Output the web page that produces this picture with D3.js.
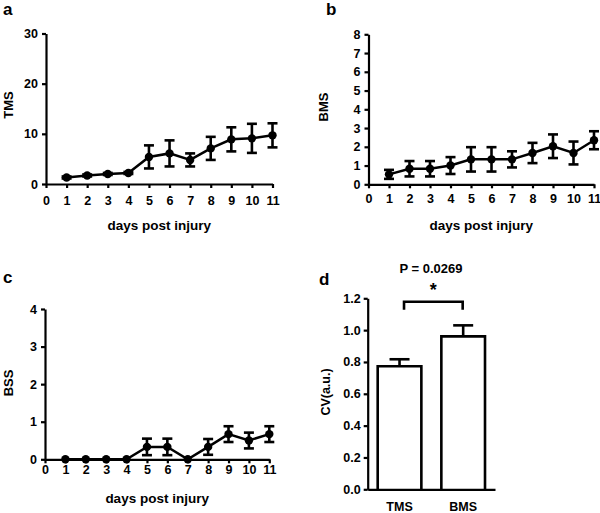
<!DOCTYPE html>
<html>
<head>
<meta charset="utf-8">
<script src="https://cdn.jsdelivr.net/npm/d3@7"></script>
<style>
  body { margin: 0; background: #fff; }
  svg { display: block; }
  text { font-family: "Liberation Sans", Arial, sans-serif; font-weight: bold; fill: #000; }
</style>
</head>
<body>
<svg id="chart" width="600" height="513"></svg>
<script>
// ---- data ----
const days = [1, 2, 3, 4, 5, 6, 7, 8, 9, 10, 11];
const xTicks = [0, 1, 2, 3, 4, 5, 6, 7, 8, 9, 10, 11];

const tmsMean = [1.3, 1.7, 2.0, 2.2, 5.4, 6.1, 4.8, 7.1, 8.9, 9.1, 9.7];
const tmsErr  = [0.2, 0.2, 0.2, 0.2, 2.3, 2.6, 1.3, 2.3, 2.4, 2.9, 2.4];
const tmsTicks = [0, 10, 20, 30];

const bmsMean = [0.53, 0.83, 0.83, 1.0, 1.33, 1.33, 1.33, 1.67, 2.03, 1.67, 2.35];
const bmsErr  = [0.24, 0.41, 0.41, 0.45, 0.65, 0.65, 0.43, 0.54, 0.63, 0.61, 0.48];
const bmsTicks = [0, 1, 2, 3, 4, 5, 6, 7, 8];

const bssMean = [0, 0, 0, 0, 0.33, 0.33, 0, 0.33, 0.67, 0.5, 0.67];
const bssErr  = [0, 0, 0, 0, 0.22, 0.22, 0, 0.21, 0.21, 0.21, 0.21];
const bssTicks = [0, 1, 2, 3, 4];

const cvGroups = ["TMS", "BMS"];
const cvMean = [0.773, 0.961];
const cvErr  = [0.044, 0.069];
const cvTicks = [0, 0.2, 0.4, 0.6, 0.8, 1.0, 1.2];
const pLabel = "P = 0.0269";
const sigMark = "*";

const xLabel = "days post injury";

// ---- drawing ----
const svg = d3.select("#chart");

function styleAxis(g) {
  g.selectAll("path.domain").attr("stroke", "#000").attr("stroke-width", 2.2);
  g.selectAll(".tick line").attr("stroke", "#000").attr("stroke-width", 2.2);
  g.selectAll(".tick text")
    .attr("fill", "#000")
    .style("font-family", '"Liberation Sans", Arial, sans-serif')
    .style("font-weight", "bold")
    .style("font-size", "12.5px");
}

function linePanel(o) {
  const x = d3.scaleLinear().domain([0, 11]).range([o.x0, o.x1]);
  const y = d3.scaleLinear().domain([0, o.ymax]).range([o.y0, o.y1]);
  const g = svg.append("g");

  const gx = g.append("g").attr("transform", `translate(0,${o.y0})`)
    .call(d3.axisBottom(x).tickValues(xTicks).tickFormat(d3.format("d"))
      .tickSize(4).tickSizeOuter(0).tickPadding(o.xpad));
  styleAxis(gx);
  const gy = g.append("g").attr("transform", `translate(${o.x0},0)`)
    .call(d3.axisLeft(y).tickValues(o.ticks).tickFormat(d3.format("d"))
      .tickSize(4).tickSizeOuter(0).tickPadding(4));
  styleAxis(gy);

  // line
  g.append("path")
    .datum(days.map((d, i) => [d, o.mean[i]]))
    .attr("fill", "none").attr("stroke", "#000").attr("stroke-width", 2.5)
    .attr("d", d3.line().x(d => x(d[0])).y(d => y(d[1])));

  // error bars
  const eb = g.append("g").attr("stroke", "#000").attr("stroke-width", 2.6);
  days.forEach((d, i) => {
    const e = o.err[i];
    if (e <= 0) return;
    const cx = x(d), top = y(o.mean[i] + e), bot = y(o.mean[i] - e);
    eb.append("line").attr("x1", cx).attr("x2", cx).attr("y1", top).attr("y2", bot);
    eb.append("line").attr("x1", cx - 5).attr("x2", cx + 5).attr("y1", top).attr("y2", top);
    eb.append("line").attr("x1", cx - 5).attr("x2", cx + 5).attr("y1", bot).attr("y2", bot);
  });

  // points
  g.append("g").selectAll("circle").data(days).join("circle")
    .attr("cx", d => x(d)).attr("cy", (d, i) => y(o.mean[i])).attr("r", 4.2)
    .attr("fill", "#000");

  // labels
  g.append("text").attr("x", (o.x0 + o.x1) / 2).attr("y", o.xlabY)
    .attr("text-anchor", "middle").style("font-size", "13.5px").text(xLabel);
  g.append("text").attr("transform", `translate(${o.ylabX},${o.ylabY}) rotate(-90)`)
    .attr("text-anchor", "middle").style("font-size", "13px").text(o.ylabel);
  g.append("text").attr("x", o.letX).attr("y", o.letY)
    .style("font-size", "17px").text(o.letter);
}

linePanel({ x0: 46, x1: 272.5, y0: 184, y1: 33.5, ymax: 30, ticks: tmsTicks,
  mean: tmsMean, err: tmsErr, xpad: 8, xlabY: 230, ylabel: "TMS", ylabX: 13, ylabY: 105,
  letter: "a", letX: 3, letY: 15 });

linePanel({ x0: 368.5, x1: 594, y0: 184.3, y1: 34.3, ymax: 8, ticks: bmsTicks,
  mean: bmsMean, err: bmsErr, xpad: 6, xlabY: 230, ylabel: "BMS", ylabX: 328, ylabY: 107,
  letter: "b", letX: 326, letY: 15 });

linePanel({ x0: 45, x1: 269.3, y0: 459.3, y1: 309, ymax: 4, ticks: bssTicks,
  mean: bssMean, err: bssErr, xpad: 2, xlabY: 503, ylabel: "BSS", ylabX: 13, ylabY: 383,
  letter: "c", letX: 3, letY: 283 });

// ---- panel d ----
(function () {
  const x0 = 367.7, x1 = 495, y0 = 489.3, y1 = 298.3;
  const x = d3.scaleBand().domain(cvGroups).range([x0, x1]).paddingInner(0.314).paddingOuter(0.157);
  const y = d3.scaleLinear().domain([0, 1.2]).range([y0, y1]);
  const g = svg.append("g");

  // bars (open, outlined on three sides)
  cvGroups.forEach((k, i) => {
    const bx = x(k), bw = x.bandwidth(), top = y(cvMean[i]);
    g.append("path")
      .attr("d", `M${bx},${y0} V${top} H${bx + bw} V${y0}`)
      .attr("fill", "#fff").attr("stroke", "#000").attr("stroke-width", 2.6);
    const cx = bx + bw / 2, et = y(cvMean[i] + cvErr[i]);
    g.append("line").attr("x1", cx).attr("x2", cx).attr("y1", top).attr("y2", et)
      .attr("stroke", "#000").attr("stroke-width", 2.6);
    g.append("line").attr("x1", cx - 10).attr("x2", cx + 10).attr("y1", et).attr("y2", et)
      .attr("stroke", "#000").attr("stroke-width", 2.6);
  });

  const gx = g.append("g").attr("transform", `translate(0,${y0})`)
    .call(d3.axisBottom(x).tickSize(0).tickPadding(13));
  styleAxis(gx);
  const gy = g.append("g").attr("transform", `translate(${x0},0)`)
    .call(d3.axisLeft(y).tickValues(cvTicks).tickFormat(d3.format(".1f"))
      .tickSize(4).tickSizeOuter(0).tickPadding(3));
  styleAxis(gy);

  // significance bracket
  const bl = x("TMS") + x.bandwidth() / 2 + 4.5, br = x("BMS") + x.bandwidth() / 2 - 0.5;
  const by = 301.7;
  g.append("path").attr("d", `M${bl},${by + 8} V${by} H${br} V${by + 8}`)
    .attr("fill", "none").attr("stroke", "#000").attr("stroke-width", 2.6);
  g.append("text").attr("x", (bl + br) / 2).attr("y", 296).attr("text-anchor", "middle")
    .style("font-size", "18px").text(sigMark);
  g.append("text").attr("x", 431).attr("y", 273.3).attr("text-anchor", "middle")
    .style("font-size", "13px").text(pLabel);

  g.append("text").attr("transform", `translate(330,392) rotate(-90)`)
    .attr("text-anchor", "middle").style("font-size", "12.5px").text("CV(a.u.)");
  g.append("text").attr("x", 319).attr("y", 285).style("font-size", "17px").text("d");
})();
</script>
</body>
</html>
